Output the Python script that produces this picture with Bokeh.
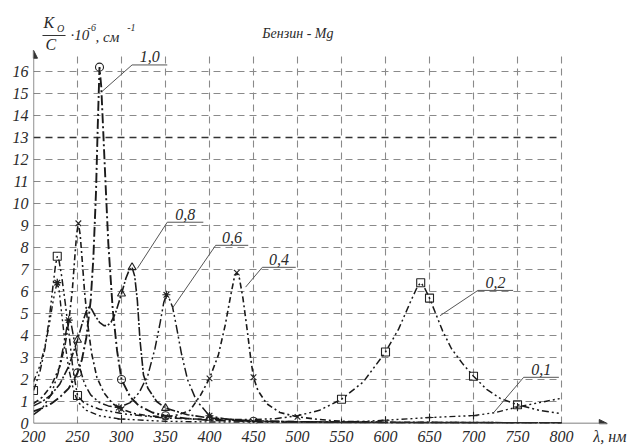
import numpy as np
from bokeh.plotting import figure
from bokeh.models import Label, Arrow, NormalHead, FixedTicker
from bokeh.embed import file_html
from bokeh.resources import INLINE

# ---- data ----
x_ticks = [200, 250, 300, 350, 400, 450, 500, 550, 600, 650, 700, 750, 800]
y_ticks = list(range(0, 17))
x_unit_pos = 855
x_unit_text = "λ, нм"

c10_wl = [200,210,220,230,240,250,255,260,265,268,271,273,275,277,279,282,285,290,295,300,310,320,335,350,375,400,450,500,550,600,700,800]
c10_k  = [0.55,0.7,0.9,1.2,1.6,2.3,2.9,3.9,5.6,7.5,10.5,13.5,16.2,15.3,13.5,10.8,8.2,5.2,3.3,2.0,1.2,0.8,0.5,0.35,0.22,0.15,0.1,0.07,0.05,0.04,0.03,0.02]
c10_mk = [250, 275, 300, 350, 450]

c08_wl = [200,210,220,230,240,245,250,255,260,263,266,270,275,280,284,288,293,300,305,309,312,315,318,321,325,330,340,350,375,400,450,500,600,800]
c08_k  = [0.8,1.0,1.3,1.8,2.6,3.2,3.8,4.5,5.1,5.3,5.2,4.9,4.6,4.45,4.45,4.6,5.0,5.9,6.6,7.0,7.1,6.7,5.6,3.8,2.2,1.6,1.0,0.7,0.4,0.25,0.12,0.08,0.05,0.03]
c08_mk = [250, 300, 312, 350, 400]

c06_wl = [200,210,220,228,234,238,240,243,247,252,258,265,275,285,297,310,320,330,338,344,348,351,354,358,362,368,375,385,400,425,450,500,600,800]
c06_k  = [0.4,0.7,1.3,2.3,3.5,4.4,4.7,4.5,3.6,2.6,1.8,1.3,0.95,0.8,0.73,0.95,1.4,2.2,3.4,4.6,5.5,5.85,5.7,5.3,4.5,3.2,2.0,1.05,0.35,0.15,0.1,0.07,0.04,0.03]
c06_mk = [240, 297, 351, 400]

c04_wl = [200,210,220,230,236,240,244,247,249,251,253,255,258,262,266,272,280,290,300,315,330,350,365,378,390,400,410,418,424,428,431,434,438,443,447,450,455,465,480,500,525,550,600,700,800]
c04_k  = [0.9,1.2,1.7,2.6,3.6,4.6,6.0,7.6,8.6,9.1,8.6,7.6,6.0,4.4,3.2,2.1,1.4,0.9,0.65,0.45,0.35,0.3,0.4,0.6,1.3,2.05,3.1,4.5,5.8,6.6,6.86,6.6,5.7,4.2,2.9,2.1,1.5,0.9,0.5,0.3,0.18,0.1,0.06,0.04,0.03]
c04_mk = [251, 300, 350, 400, 431, 450, 500]

c02_wl = [200,207,213,218,222,225,227,229,232,236,240,245,250,257,265,275,300,350,400,450,475,500,525,550,575,600,615,628,636,640,644,650,656,665,675,688,700,715,730,750,775,800]
c02_k  = [1.5,2.3,3.4,4.8,6.2,7.2,7.6,7.4,6.7,5.5,4.2,2.4,1.27,0.95,0.8,0.65,0.45,0.25,0.18,0.18,0.22,0.35,0.6,1.1,1.9,3.25,4.3,5.5,6.2,6.4,6.2,5.7,5.1,4.2,3.4,2.7,2.15,1.55,1.15,0.85,0.6,0.45]
c02_mk = [200, 227, 250, 550, 600, 640, 650, 700, 750]

c01_wl = [200,207,213,218,222,225,227,229,232,236,240,245,250,260,275,300,350,400,450,500,550,600,650,700,725,750,775,800]
c01_k  = [1.9,2.6,3.5,4.5,5.5,6.1,6.4,6.1,5.0,3.6,2.5,1.6,1.0,0.6,0.35,0.2,0.1,0.07,0.06,0.05,0.05,0.15,0.27,0.36,0.5,0.75,0.95,1.15]
c01_mk = [300, 550, 600, 650, 700, 750]
c01_star = [227]

labels = ["1,0", "0,8", "0,6", "0,4", "0,2", "0,1"]
lead_x = [[278, 312, 352], [318, 352, 393], [358, 407, 444], [441, 460, 498], [662, 705, 745], [723, 757, 797]]
lead_y = [[15.1, 16.3, 16.3], [7.05, 9.15, 9.15], [5.25, 8.1, 8.1], [6.2, 7.1, 7.1], [4.9, 6.05, 6.05], [0.5, 2.1, 2.1]]

# ---- figure ----
p = figure(width=630, height=448, output_backend="svg", toolbar_location=None,
           x_range=(200, 878.4), y_range=(0, 19.23),
           min_border_left=33, min_border_right=0, min_border_top=0, min_border_bottom=25)
p.outline_line_color = None
p.xgrid.visible = False
p.ygrid.visible = False

SERIF = "Liberation Serif"
TXT = "#2a2a2a"
AX = "#555555"

# grid
gx = x_ticks[1:]
p.segment(x0=gx, y0=[0]*len(gx), x1=gx, y1=[16.88]*len(gx), line_color="#8a8a8a",
          line_width=1.1, line_dash="7 5")
gy = [v for v in y_ticks[1:] if v != 13]
p.segment(x0=[200]*len(gy), y0=gy, x1=[800]*len(gy), y1=gy, line_color="#8a8a8a",
          line_width=1.1, line_dash="7 5")
p.segment(x0=[200], y0=[13], x1=[800], y1=[13], line_color="#333333", line_width=1.4, line_dash="7 5")

# axes: bokeh labels, axis lines drawn as arrows
for ax in (p.xaxis[0], p.yaxis[0]):
    ax.major_tick_line_color = None
    ax.minor_tick_line_color = None
    ax.major_tick_out = 0
    ax.major_tick_in = 0
    ax.minor_tick_out = 0
    ax.minor_tick_in = 0
    ax.axis_line_color = None
    ax.major_label_text_font = SERIF
    ax.major_label_text_font_style = "italic"
    ax.major_label_text_font_size = "16px"
    ax.major_label_text_color = TXT
p.xaxis.ticker = FixedTicker(ticks=x_ticks + [x_unit_pos])
p.xaxis.major_label_overrides = {x_unit_pos: x_unit_text}
p.yaxis.ticker = FixedTicker(ticks=y_ticks)
p.xaxis.major_label_standoff = 4
p.yaxis.major_label_standoff = 5

p.add_layout(Arrow(end=NormalHead(size=8, fill_color="#333333", line_color="#333333"),
                   x_start=200, y_start=0, x_end=200, y_end=16.97, line_color=AX, line_width=1.3))
p.add_layout(Arrow(end=NormalHead(size=8, fill_color="#333333", line_color="#333333"),
                   x_start=200, y_start=0, x_end=852, y_end=0, line_color=AX, line_width=1.3))

# curves
series = [
    (c10_wl, c10_k, c10_mk, "circle", "10 3 2 3", 1.9),
    (c08_wl, c08_k, c08_mk, "triangle", "9 2 2 2", 1.6),
    (c06_wl, c06_k, c06_mk, "asterisk", "9 3 2 3 2 3", 1.5),
    (c04_wl, c04_k, c04_mk, "x", "6 3 2 3", 1.6),
    (c02_wl, c02_k, c02_mk, "square", "7 3 2 3 2 3", 1.5),
    (c01_wl, c01_k, c01_mk, "cross", "6 3 2 3 2 3 2 3", 1.4),
]
for wl, k, mk, marker, dash, lw in series:
    p.line(wl, k, line_color="#1a1a1a", line_width=lw, line_dash=dash)
    wl_a = np.array(wl); k_a = np.array(k)
    sel = np.isin(wl_a, mk)
    p.scatter(wl_a[sel], k_a[sel], marker=marker, size=8, line_color="#222222",
              fill_color="white", fill_alpha=0.0, line_width=1.1)
wl_a = np.array(c01_wl); k_a = np.array(c01_k)
sel = np.isin(wl_a, c01_star)
p.scatter(wl_a[sel], k_a[sel], marker="asterisk", size=8, line_color="#222222", line_width=1.3)

# callouts
for lab, lx, ly in zip(labels, lead_x, lead_y):
    p.line(lx, ly, line_color="#555555", line_width=1.0)
    p.add_layout(Label(x=(lx[1] + lx[2]) / 2, y=ly[2] + 0.12, text=lab, text_align="center",
                       text_baseline="bottom", text_font=SERIF, text_font_style="italic",
                       text_font_size="16px", text_color=TXT))

# title and axis caption
cap = dict(text_font=SERIF, text_font_style="italic", text_baseline="middle", text_color=TXT)
p.add_layout(Label(x=460, y=17.73, text="Бензин - Mg", text_font_size="14px", **cap))
p.add_layout(Label(x=211.4, y=18.23, text="K", text_font_size="16px", **cap))
p.add_layout(Label(x=226.8, y=17.95, text="O", text_font_size="10px", **cap))
p.add_layout(Arrow(end=None, x_start=210.2, y_start=17.64, x_end=236.4, y_end=17.64,
                   line_color="#333333", line_width=1.1))
p.add_layout(Label(x=213.6, y=17.23, text="C", text_font_size="16px", **cap))
p.add_layout(Label(x=242, y=17.68, text="·10", text_font_size="15px", **cap))
p.add_layout(Label(x=261.5, y=18.0, text="-6", text_font_size="10px", **cap))
p.add_layout(Label(x=270.5, y=17.59, text=", см", text_font_size="15px", **cap))
p.add_layout(Label(x=306.5, y=18.0, text="-1", text_font_size="10px", **cap))

open("out.html", "w").write(file_html(p, INLINE))
